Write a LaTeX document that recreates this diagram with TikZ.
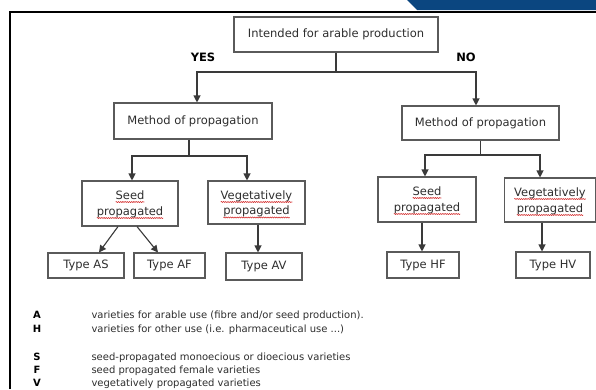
\documentclass[tikz,border=0pt]{standalone}
\usepackage{fontspec}
\setmainfont{DejaVu Sans}
\usetikzlibrary{arrows.meta,decorations.pathmorphing}
\definecolor{boxline}{HTML}{5A5A5A}
\definecolor{connc}{HTML}{3A3A3A}
\definecolor{txt}{HTML}{2E2E2E}
\definecolor{band}{HTML}{0B4680}
\definecolor{squig}{HTML}{D42A2A}
\begin{document}
\begin{tikzpicture}[x=1pt,y=-1pt,
 box/.style={draw=boxline, line width=1.1pt, fill=white, inner sep=0pt, font=\fontsize{11.5}{16}\selectfont, text=txt, align=center},
 wtxt/.style={inner sep=0pt, outer sep=0pt, anchor=base, font=\fontsize{11.5}{14}\selectfont, text=txt},
 sq/.style={draw=squig, line width=0.55pt, decorate, decoration={snake, amplitude=0.55pt, segment length=2.2pt}},
 conn/.style={draw=connc, line width=1.1pt},
 arr/.style={conn, -{Triangle[length=7pt,width=7pt]}},
 lbl/.style={font=\bfseries\fontsize{11.5}{14}\selectfont, text=black},
 key/.style={font=\bfseries\fontsize{10}{12}\selectfont, anchor=base, text=black},
 desc/.style={font=\fontsize{10}{12}\selectfont, anchor=base west, text=txt}]
\useasboundingbox (0,0) rectangle (596,389);
\fill[white] (0,0) rectangle (596,389);
% header band and frame
\fill[band] (407,0) -- (596,0) -- (596,10) -- (417,10) -- cycle;
\draw[line width=1.4pt, black] (10,389) -- (10,12) -- (596,12);
% boxes
\node[box, minimum width=204pt, minimum height=35pt] (top) at (336,34.5) {Intended for arable production};
\node[lbl] (yes) at (203,57) {YES};
\node[lbl] (no) at (466,57) {NO};
\node[box, minimum width=158pt, minimum height=36pt] (mL) at (193,121) {Method of propagation};
\node[box, minimum width=157pt, minimum height=34pt] (mR) at (480.5,123) {Method of propagation};
\node[box, minimum width=96pt, minimum height=45pt] (sL) at (130,203.5) {};
\node[box, minimum width=97pt, minimum height=43pt] (vL) at (256.5,202.5) {};
\node[box, minimum width=98pt, minimum height=45pt] (sR) at (427,199.5) {};
\node[box, minimum width=91pt, minimum height=44pt] (vR) at (550,200) {};
% two-line texts with spell-check squiggles
\node[wtxt] (sL1) at ([yshift=4.5pt]sL.center) {Seed};
\node[wtxt] (sL2) at ([yshift=-11.5pt]sL.center) {propagated};
\node[wtxt] (vL1) at ([yshift=3.5pt]vL.center) {Vegetatively};
\node[wtxt] (vL2) at ([yshift=-12pt]vL.center) {propagated};
\node[wtxt] (sR1) at ([yshift=4.5pt]sR.center) {Seed};
\node[wtxt] (sR2) at ([yshift=-11.5pt]sR.center) {propagated};
\node[wtxt] (vR1) at ([yshift=4pt]vR.center) {Vegetatively};
\node[wtxt] (vR2) at ([yshift=-12pt]vR.center) {propagated};
\foreach \t in {sL1,sL2,vL1,vL2,sR1,sR2,vR1,vR2}
  \draw[sq] ([yshift=-3pt]\t.base west) -- ([yshift=-3pt]\t.base east);
\node[box, minimum width=76pt, minimum height=25pt] (AS) at (86,265.5) {Type AS};
\node[box, minimum width=71pt, minimum height=25pt] (AF) at (169.5,265.5) {Type AF};
\node[box, minimum width=76pt, minimum height=27pt] (AV) at (264,266.5) {Type AV};
\node[box, minimum width=72pt, minimum height=26pt] (HF) at (423,265) {Type HF};
\node[box, minimum width=74pt, minimum height=26pt] (HV) at (553,265) {Type HV};
% connectors
\coordinate (b0) at (336,72);
\draw[conn] (top.south) -- (b0);
\draw[arr] (b0) -| ([xshift=4pt]mL.north);
\draw[arr] (b0) -| ([xshift=-4.5pt]mR.north);
\coordinate (b1) at (189,156);
\draw[conn] (mL.south -| b1) -- (b1);
\draw[arr] (b1) -| ([xshift=2pt]sL.north);
\draw[arr] (b1) -| ([xshift=-9.5pt]vL.north);
\coordinate (b2) at (480.5,155);
\draw[conn] (mR.south) -- (b2);
\draw[arr] (b2) -| ([xshift=-2pt]sR.north);
\draw[arr] (b2) -| ([xshift=-10pt]vR.north);
\draw[arr] ([xshift=-12pt]sL.south) -- ([xshift=13pt]AS.north);
\draw[arr] ([xshift=7pt]sL.south) -- ([xshift=-11.5pt]AF.north);
\draw[arr] ([xshift=1.5pt]vL.south) -- ([xshift=1.5pt]vL.south |- AV.north);
\draw[arr] ([xshift=-5pt]sR.south) -- ([xshift=-5pt]sR.south |- HF.north);
\draw[arr] ([xshift=-8pt]vR.south) -- ([xshift=-8pt]vR.south |- HV.north);
% legend
\node[key] (kA) at (37,318) {A};
\node[desc] (dA) at (88,318) {varieties for arable use (fibre and/or seed production).};
\node[key] (kH) at (37,332) {H};
\node[desc] (dH) at (88,332) {varieties for other use (i.e. pharmaceutical use ...)};
\node[key] (kS) at (37,360.5) {S};
\node[desc] (dS) at (88,360.5) {seed-propagated monoecious or dioecious varieties};
\node[key] (kF) at (37,373.5) {F};
\node[desc] (dF) at (88,373.5) {seed propagated female varieties};
\node[key] (kV) at (37,386.3) {V};
\node[desc] (dV) at (88,386.3) {vegetatively propagated varieties};
\end{tikzpicture}
\end{document}
